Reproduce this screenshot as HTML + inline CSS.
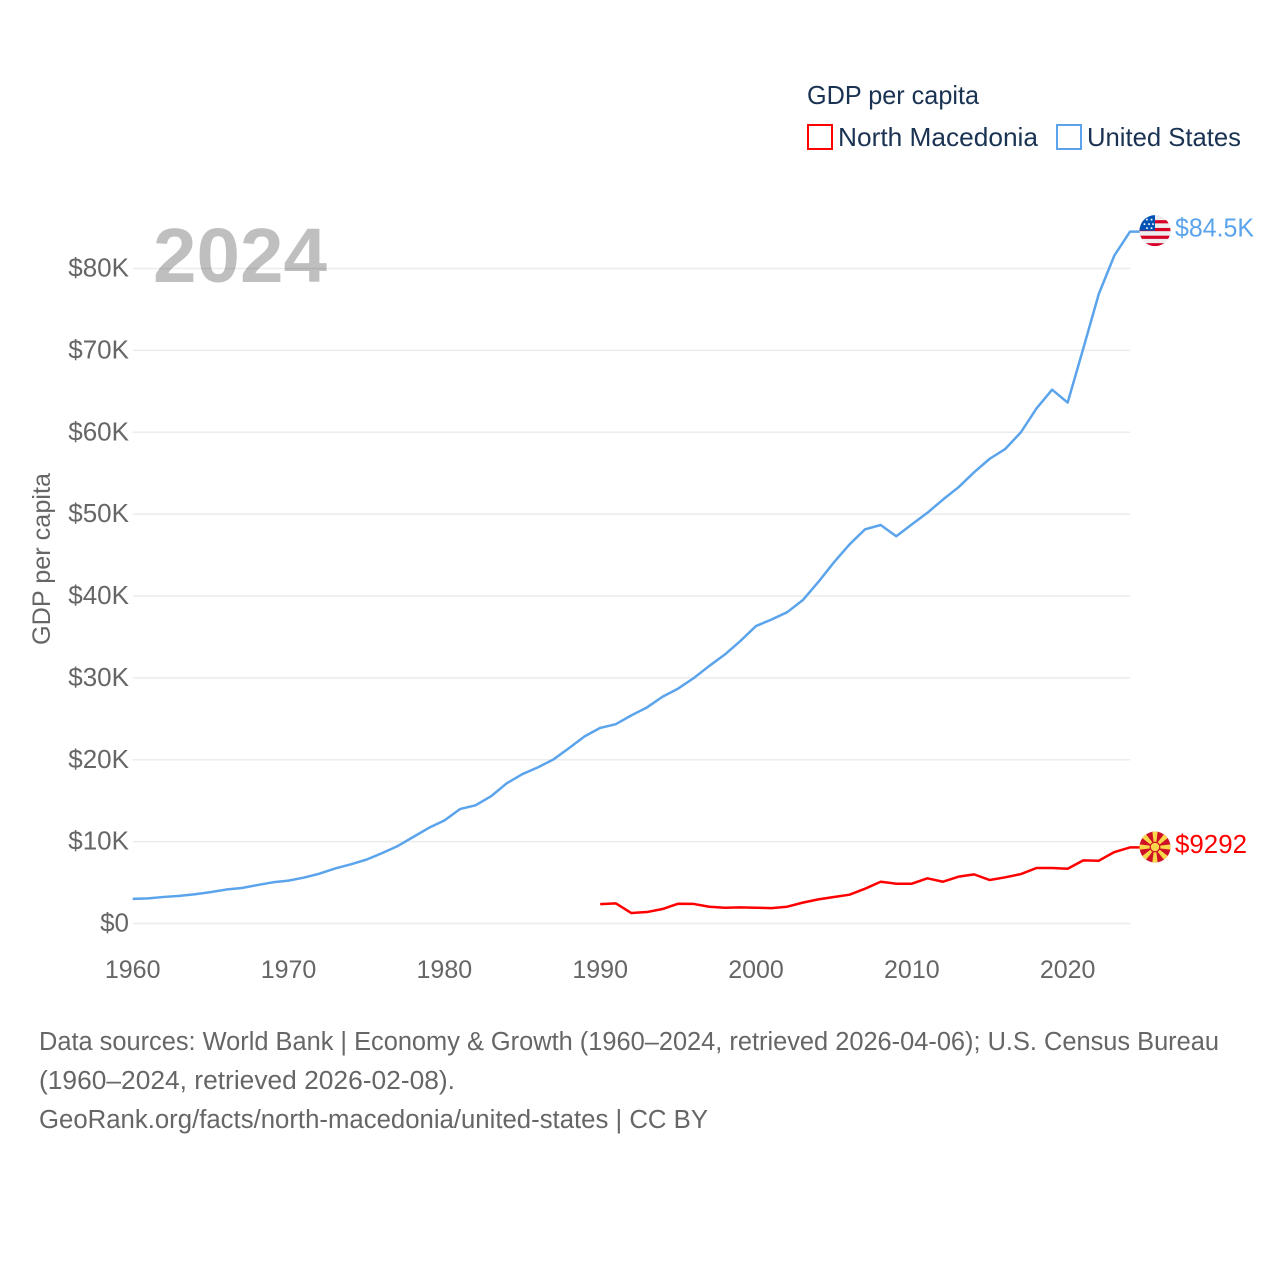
<!DOCTYPE html>
<html lang="en">
<head>
<meta charset="utf-8">
<title>GDP per capita: North Macedonia and United States</title>
<style>
html,body{margin:0;padding:0;background:#fff;}
svg{display:block;font-family:"Liberation Sans",sans-serif;}
.tick{font-size:25px;fill:#666;}
.ytick{font-size:26px;fill:#666;}
.src{font-size:25.5px;fill:#666;}
.leg{font-size:26px;fill:#1a3353;}
.val{font-size:26px;}
</style>
</head>
<body>
<svg id="chart" xmlns="http://www.w3.org/2000/svg" width="1280" height="1280" viewBox="0 0 1280 1280">
  <defs>
    <clipPath id="flag-clip"><circle cx="0" cy="0" r="15.5"></circle></clipPath>
  </defs>
  <g id="grid"></g>
  <text x="153" y="282" font-size="77" font-weight="700" fill="#000" fill-opacity="0.25" textLength="174" lengthAdjust="spacingAndGlyphs">2024</text>
  <g id="y-axis"></g>
  <g id="x-axis"></g>
  <text class="tick" transform="translate(50,645) rotate(-90)" textLength="172" lengthAdjust="spacingAndGlyphs">GDP per capita</text>
  <g id="series"></g>

  <g id="flag-us">
    <g clip-path="url(#flag-clip)">
      <rect x="-16" y="-16" width="32" height="32" fill="#eeeeee"></rect>
      <rect x="-16" y="-10.5" width="32" height="3.2" fill="#d80027"></rect>
      <rect x="-16" y="-2.7" width="32" height="3.2" fill="#d80027"></rect>
      <rect x="-16" y="5" width="32" height="3.2" fill="#d80027"></rect>
      <rect x="-16" y="12.5" width="32" height="3.5" fill="#d80027"></rect>
      <rect x="-16" y="-16" width="16" height="16" fill="#0052b4"></rect>
      <g fill="#eeeeee">
        <circle cx="-8" cy="-11" r="1"></circle><circle cx="-3.5" cy="-11" r="1"></circle>
        <circle cx="-10.5" cy="-6.5" r="1"></circle><circle cx="-6" cy="-6.5" r="1"></circle><circle cx="-2" cy="-6.5" r="1"></circle>
        <circle cx="-8" cy="-2.5" r="1"></circle><circle cx="-3.5" cy="-2.5" r="1"></circle>
      </g>
    </g>
  </g>
  <g id="flag-mk">
    <g clip-path="url(#flag-clip)">
      <rect x="-16" y="-16" width="32" height="32" fill="#ce1126"></rect>
      <g fill="#f8d84a">
        <polygon points="-0.8,0 0.8,0 2.7,-16 -2.7,-16"></polygon>
        <polygon points="-0.8,0 0.8,0 2.7,-16 -2.7,-16" transform="rotate(45)"></polygon>
        <polygon points="-0.8,0 0.8,0 2.7,-16 -2.7,-16" transform="rotate(90)"></polygon>
        <polygon points="-0.8,0 0.8,0 2.7,-16 -2.7,-16" transform="rotate(135)"></polygon>
        <polygon points="-0.8,0 0.8,0 2.7,-16 -2.7,-16" transform="rotate(180)"></polygon>
        <polygon points="-0.8,0 0.8,0 2.7,-16 -2.7,-16" transform="rotate(225)"></polygon>
        <polygon points="-0.8,0 0.8,0 2.7,-16 -2.7,-16" transform="rotate(270)"></polygon>
        <polygon points="-0.8,0 0.8,0 2.7,-16 -2.7,-16" transform="rotate(315)"></polygon>
      </g>
      <circle cx="0" cy="0" r="5.4" fill="#ce1126"></circle>
      <circle cx="0" cy="0" r="4.2" fill="#f8d84a"></circle>
    </g>
  </g>

  <text id="label-us" class="val" fill="#5ba4ec" textLength="79" lengthAdjust="spacingAndGlyphs"></text>
  <text id="label-mk" class="val" fill="#ff0000" textLength="72" lengthAdjust="spacingAndGlyphs"></text>

  <g>
    <text class="leg" x="807" y="104" textLength="172" lengthAdjust="spacingAndGlyphs">GDP per capita</text>
    <g>
      <rect x="808" y="125" width="24" height="24" fill="#fff" stroke="#ff0000" stroke-width="2"></rect>
      <text class="leg" x="838" y="146" textLength="200" lengthAdjust="spacingAndGlyphs">North Macedonia</text>
    </g>
    <g>
      <rect x="1057" y="125" width="24" height="24" fill="#fff" stroke="#5ba4ec" stroke-width="2"></rect>
      <text class="leg" x="1087" y="146" textLength="154" lengthAdjust="spacingAndGlyphs">United States</text>
    </g>
  </g>

  <g>
    <text class="src" x="39" y="1050" textLength="1180" lengthAdjust="spacingAndGlyphs">Data sources: World Bank | Economy &amp; Growth (1960–2024, retrieved 2026-04-06); U.S. Census Bureau</text>
    <text class="src" x="39" y="1089" textLength="416" lengthAdjust="spacingAndGlyphs">(1960–2024, retrieved 2026-02-08).</text>
    <text class="src" x="39" y="1128" textLength="669" lengthAdjust="spacingAndGlyphs">GeoRank.org/facts/north-macedonia/united-states | CC BY</text>
  </g>
</svg>
<script>
const yTicks = [0, 10, 20, 30, 40, 50, 60, 70, 80];
const yTickLabels = ["$0", "$10K", "$20K", "$30K", "$40K", "$50K", "$60K", "$70K", "$80K"];
const xTicks = [1960, 1970, 1980, 1990, 2000, 2010, 2020];
const usStartYear = 1960;
const usValues = [3.007, 3.067, 3.244, 3.375, 3.574, 3.828, 4.146, 4.336, 4.696, 5.032, 5.234, 5.609, 6.094, 6.726, 7.226, 7.801, 8.592, 9.453, 10.565, 11.674, 12.575, 13.976, 14.434, 15.544, 17.121, 18.237, 19.071, 20.039, 21.417, 22.857, 23.889, 24.342, 25.419, 26.387, 27.695, 28.691, 29.968, 31.459, 32.854, 34.515, 36.33, 37.134, 38.023, 39.496, 41.713, 44.115, 46.299, 48.15, 48.67, 47.295, 48.751, 50.166, 51.784, 53.291, 55.124, 56.763, 57.967, 60.0, 62.905, 65.2, 63.628, 70.219, 76.9, 81.6, 84.5];
const mkStartYear = 1990;
const mkValues = [2.37, 2.46, 1.28, 1.4, 1.77, 2.42, 2.39, 2.05, 1.93, 1.97, 1.93, 1.88, 2.05, 2.55, 2.95, 3.24, 3.52, 4.25, 5.1, 4.86, 4.86, 5.52, 5.1, 5.72, 6.0, 5.31, 5.64, 6.04, 6.78, 6.78, 6.69, 7.71, 7.67, 8.73, 9.292];
const usValueLabel = "$84.5K";
const mkValueLabel = "$9292";

const NS = "http://www.w3.org/2000/svg";
function xScale(year) { return 132.7 + (year - 1960) * (1130 - 132.7) / 64; }
function yScale(v) { return 923.5 - v * 655 / 80; }

const gridGroup = document.getElementById("grid");
const yAxisGroup = document.getElementById("y-axis");
const xAxisGroup = document.getElementById("x-axis");
const seriesGroup = document.getElementById("series");

yTicks.forEach(function (t, i) {
  const line = document.createElementNS(NS, "line");
  
  
  line.setAttribute("x1", xScale(1960));
  line.setAttribute("x2", xScale(2024));
  line.setAttribute("y1", yScale(t));
  line.setAttribute("y2", yScale(t));
  line.setAttribute("stroke", "#ececec");
  line.setAttribute("stroke-width", "1.4");
  gridGroup.appendChild(line);

  const label = document.createElementNS(NS, "text");
  
  
  label.setAttribute("class", "ytick");
  label.setAttribute("x", 129);
  label.setAttribute("y", yScale(t) + 8);
  label.setAttribute("text-anchor", "end");
  label.textContent = yTickLabels[i];
  yAxisGroup.appendChild(label);
});

xTicks.forEach(function (t) {
  const label = document.createElementNS(NS, "text");
  
  
  label.setAttribute("class", "tick");
  label.setAttribute("x", xScale(t));
  label.setAttribute("y", 978);
  label.setAttribute("text-anchor", "middle");
  label.textContent = t;
  xAxisGroup.appendChild(label);
});

function linePoints(startYear, values) {
  return values.map(function (v, i) {
    return xScale(startYear + i).toFixed(2) + "," + yScale(v).toFixed(2);
  });
}

const usLine = document.createElementNS(NS, "polyline");


usLine.setAttribute("points", linePoints(usStartYear, usValues).join(" ") + " 1140," + yScale(usValues[usValues.length - 1]).toFixed(2));
usLine.setAttribute("fill", "none");
usLine.setAttribute("stroke", "#5ba4ec");
usLine.setAttribute("stroke-width", "2.5");
usLine.setAttribute("stroke-linejoin", "round");
seriesGroup.appendChild(usLine);

const mkLine = document.createElementNS(NS, "polyline");


mkLine.setAttribute("points", linePoints(mkStartYear, mkValues).join(" ") + " 1140," + yScale(mkValues[mkValues.length - 1]).toFixed(2));
mkLine.setAttribute("fill", "none");
mkLine.setAttribute("stroke", "#ff0000");
mkLine.setAttribute("stroke-width", "2.5");
mkLine.setAttribute("stroke-linejoin", "round");
seriesGroup.appendChild(mkLine);

const usEndY = yScale(usValues[usValues.length - 1]);
const mkEndY = yScale(mkValues[mkValues.length - 1]);
document.getElementById("flag-us").setAttribute("transform", "translate(1155," + (usEndY - 1) + ")");
document.getElementById("flag-mk").setAttribute("transform", "translate(1155," + (mkEndY - 0.4) + ")");

const usLabel = document.getElementById("label-us");
usLabel.setAttribute("x", 1175);
usLabel.setAttribute("y", usEndY + 4.8);
usLabel.textContent = usValueLabel;

const mkLabel = document.getElementById("label-mk");
mkLabel.setAttribute("x", 1175);
mkLabel.setAttribute("y", mkEndY + 5.8);
mkLabel.textContent = mkValueLabel;
</script>
</body>
</html>
